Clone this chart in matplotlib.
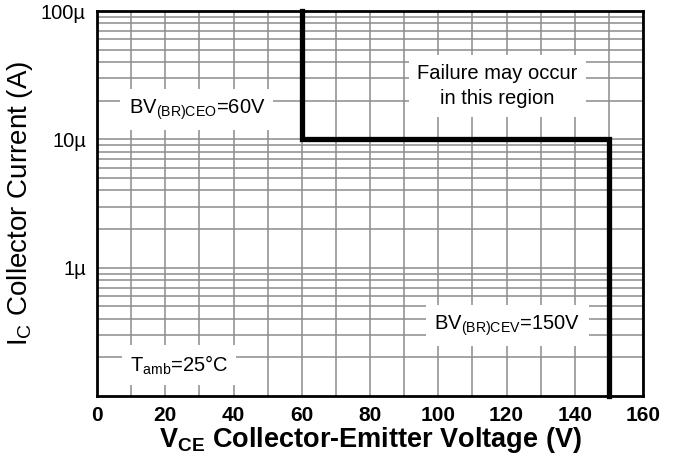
import matplotlib
matplotlib.use("Agg")
import matplotlib.pyplot as plt
from matplotlib.ticker import FixedLocator, FixedFormatter, LogLocator, NullFormatter

plt.rcParams['font.family'] = ['Liberation Sans', 'DejaVu Sans']
plt.rcParams['mathtext.fontset'] = 'custom'
plt.rcParams['mathtext.rm'] = 'Liberation Sans'
plt.rcParams['mathtext.bf'] = 'Liberation Sans:bold'
plt.rcParams['mathtext.it'] = 'Liberation Sans:italic'

# safe operating boundary (V, A)
vce_boundary = [60, 60, 150, 150]
ic_boundary = [100e-6, 10e-6, 10e-6, 0.1e-6]

x_ticks = [0, 20, 40, 60, 80, 100, 120, 140, 160]
y_ticks = [1e-6, 10e-6, 100e-6]
y_tick_labels = ['1µ', '10µ', '100µ']

fig = plt.figure(figsize=(6.77, 4.59), dpi=100)
ax = fig.add_axes([0.1433, 0.137, 0.8067, 0.839])

ax.set_yscale('log')
ax.set_xlim(0, 160)
ax.set_ylim(1e-7, 1e-4)

ax.xaxis.set_major_locator(FixedLocator(x_ticks))
ax.xaxis.set_minor_locator(FixedLocator(range(10, 160, 20)))
ax.yaxis.set_major_locator(FixedLocator(y_ticks))
ax.yaxis.set_major_formatter(FixedFormatter(y_tick_labels))
ax.yaxis.set_minor_locator(LogLocator(base=10, subs=range(2, 10)))
ax.yaxis.set_minor_formatter(NullFormatter())

ax.grid(True, which='both', color='#8c8c8c', linewidth=1.1)
ax.set_axisbelow(True)
ax.tick_params(which='both', length=0)
ax.tick_params(axis='x', pad=7, labelsize=15)
ax.tick_params(axis='y', pad=8, labelsize=14.5)
for lab in ax.get_xticklabels():
    lab.set_fontweight('bold')

for s in ax.spines.values():
    s.set_linewidth(2)
    s.set_color('black')

ax.plot(vce_boundary, ic_boundary, color='black', linewidth=3.8,
        solid_joinstyle='miter', zorder=5, clip_on=False)

box = dict(facecolor='white', edgecolor='none', pad=6)
ax.text(0.183, 0.743, r'BV$_{\mathrm{(BR)CEO}}$=60V', transform=ax.transAxes,
        ha='center', va='center', fontsize=14.5, bbox=box, zorder=6)
ax.text(0.733, 0.805, 'Failure may occur\nin this region', transform=ax.transAxes,
        ha='center', va='center', fontsize=14.5, linespacing=1.45, bbox=box, zorder=6)
ax.text(0.751, 0.184, r'BV$_{\mathrm{(BR)CEV}}$=150V', transform=ax.transAxes,
        ha='center', va='center', fontsize=14.5, bbox=box, zorder=6)
ax.text(0.15, 0.08, r'T$_{\mathrm{amb}}$=25°C', transform=ax.transAxes,
        ha='center', va='center', fontsize=14.5, bbox=box, zorder=6)

ax.set_xlabel(r'V$_{\mathbf{CE}}$ Collector-Emitter Voltage (V)', fontsize=19.5,
              fontweight='bold', labelpad=0)
ax.set_ylabel(r'I$_{\mathrm{C}}$ Collector Current (A)', fontsize=20, labelpad=4)

fig.savefig('out.png', dpi=100)
